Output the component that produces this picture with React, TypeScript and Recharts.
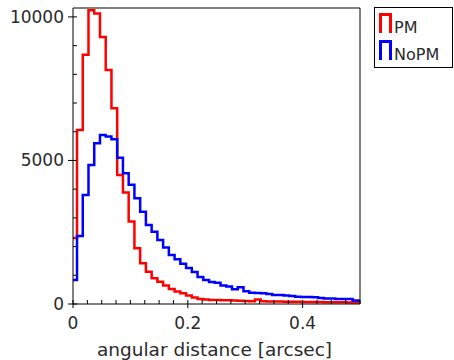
import React from 'react';
import { LineChart, Line, XAxis, YAxis, Legend, Label } from 'recharts';

const binStart = [
  0, 0.007, 0.017, 0.027, 0.037, 0.047, 0.057, 0.067, 0.077, 0.087,
  0.097, 0.107, 0.117, 0.127, 0.137, 0.147, 0.157, 0.167, 0.177, 0.187,
  0.197, 0.207, 0.217, 0.227, 0.237, 0.247, 0.257, 0.267, 0.277, 0.287,
  0.297, 0.307, 0.317, 0.327, 0.337, 0.347, 0.357, 0.367, 0.377, 0.387,
  0.397, 0.407, 0.417, 0.427, 0.437, 0.447, 0.457, 0.467, 0.477, 0.487,
  0.497,
];

const pmCounts = [
  2300, 6060, 8680, 10230, 10120, 9300, 8150, 6820, 4495, 3880,
  2870, 1940, 1420, 1125, 895, 777, 645, 523, 435, 373,
  296, 226, 174, 157, 139, 139, 132, 129, 122, 115,
  105, 94, 157, 94, 90, 87, 84, 81, 78, 75,
  72, 70, 68, 66, 64, 62, 60, 58, 56, 54,
  52,
];

const noPmCounts = [
  836, 2370, 3800, 4840, 5600, 5890, 5830, 5740, 5090, 4550,
  4150, 3680, 3215, 2750, 2520, 2230, 1970, 1710, 1560, 1400,
  1250, 1115, 940, 836, 767, 742, 645, 610, 512, 582,
  442, 394, 383, 373, 348, 314, 314, 296, 279, 254,
  244, 244, 233, 209, 192, 192, 174, 174, 174, 122,
  115,
];

const seriesOrder = ['PM', 'NoPM'];
const xEnd = 0.5;
const xTicks = [
  0, 0.025, 0.05, 0.075, 0.1, 0.125, 0.15, 0.175, 0.2, 0.225, 0.25,
  0.275, 0.3, 0.325, 0.35, 0.375, 0.4, 0.425, 0.45, 0.475, 0.5,
];
const xLabels = [0, 0.2, 0.4];
const yTicks = [0, 1000, 2000, 3000, 4000, 5000, 6000, 7000, 8000, 9000, 10000];
const yLabels = [0, 5000, 10000];
const yMax = 10310;

const data = [
  ...binStart.map((x, i) => ({ x, pm: pmCounts[i], nopm: noPmCounts[i] })),
  { x: xEnd, pm: pmCounts[pmCounts.length - 1], nopm: noPmCounts[noPmCounts.length - 1] },
];

const FONT = 'DejaVu Sans';
const TEXT = '#2a2a2a';
const isIn = (arr: number[], v: number) => arr.some((m) => Math.abs(m - v) < 1e-9);

const XTick = (props: any) => {
  const { x, y, payload } = props;
  const v = payload.value;
  const major = isIn(xLabels, v);
  return (
    <g>
      <line x1={x} x2={x} y1={major ? y + 4 : y} y2={y - 4} stroke="#000" strokeWidth={1} />
      {major && (
        <text x={x} y={y + 25} textAnchor="middle" fontSize={17} fill={TEXT} fontFamily={FONT}>
          {String(v)}
        </text>
      )}
    </g>
  );
};

const YTick = (props: any) => {
  const { x, y, payload } = props;
  const v = payload.value;
  const major = isIn(yLabels, v);
  return (
    <g>
      <line x1={major ? x - 5 : x} x2={x + 4} y1={y} y2={y} stroke="#000" strokeWidth={1} />
      {major && (
        <text x={x - 9} y={y + 6} textAnchor="end" fontSize={17} fill={TEXT} fontFamily={FONT}>
          {String(v)}
        </text>
      )}
    </g>
  );
};

const LegendBox = (props: any) => {
  const payload = [...(props.payload || [])].sort(
    (a: any, b: any) => seriesOrder.indexOf(a.value) - seriesOrder.indexOf(b.value)
  );
  return (
    <svg width={80} height={62} style={{ display: 'block' }}>
      <rect x={0.5} y={0.5} width={78} height={60} fill="#fff" stroke="#000" strokeWidth={1} />
      {payload.map((entry: any, i: number) => (
        <g key={i}>
          <path
            d={`M6.5 ${26 + 27 * i} V${7.5 + 27 * i} H16.5 V${26 + 27 * i}`}
            stroke={entry.color}
            strokeWidth={3}
            fill="none"
          />
          <text x={20} y={26 + 27 * i} fontSize={16} fill={TEXT} fontFamily={FONT}>
            {entry.value}
          </text>
        </g>
      ))}
    </svg>
  );
};

export default function App() {
  return (
    <div style={{ position: 'absolute', left: 0, top: 0 }}>
      <LineChart
        width={454}
        height={360}
        data={data}
        margin={{ top: 7, left: 0, right: 93, bottom: 0 }}
      >
        <XAxis
          dataKey="x"
          type="number"
          domain={[0, xEnd]}
          ticks={xTicks}
          interval={0}
          allowDataOverflow
          height={56}
          tickSize={0}
          tickMargin={0}
          tickLine={false}
          axisLine={{ stroke: '#000', strokeWidth: 1 }}
          tick={<XTick />}
        >
          <Label
            value="angular distance [arcsec]"
            position="insideBottom"
            offset={4}
            dx={-2}
            style={{ fontSize: 18.5, fill: TEXT, fontFamily: FONT }}
          />
        </XAxis>
        <XAxis
          xAxisId="top"
          dataKey="x"
          type="number"
          orientation="top"
          domain={[0, xEnd]}
          height={1}
          tick={false}
          tickLine={false}
          axisLine={{ stroke: '#000', strokeWidth: 1 }}
        />
        <YAxis
          type="number"
          domain={[0, yMax]}
          ticks={yTicks}
          interval={0}
          allowDataOverflow
          width={73}
          tickSize={0}
          tickMargin={0}
          tickLine={false}
          axisLine={{ stroke: '#000', strokeWidth: 1 }}
          tick={<YTick />}
        />
        <YAxis
          yAxisId="right"
          orientation="right"
          type="number"
          domain={[0, yMax]}
          width={1}
          tick={false}
          tickLine={false}
          axisLine={{ stroke: '#000', strokeWidth: 1 }}
        />
        <Legend
          layout="horizontal"
          align="center"
          verticalAlign="middle"
          wrapperStyle={{ position: 'absolute', left: 374, top: 7, width: 80, height: 62 }}
          content={<LegendBox />}
        />
        <Line
          type="stepAfter"
          dataKey="pm"
          name="PM"
          stroke="#ff0000"
          strokeWidth={2.5}
          dot={false}
          isAnimationActive={false}
        />
        <Line
          type="stepAfter"
          dataKey="nopm"
          name="NoPM"
          stroke="#0000ff"
          strokeWidth={2.5}
          dot={false}
          isAnimationActive={false}
        />
      </LineChart>
    </div>
  );
}
